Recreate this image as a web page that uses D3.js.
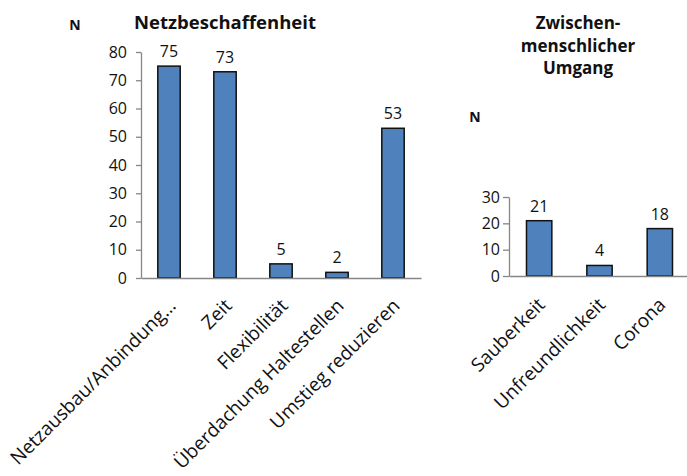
<!DOCTYPE html>
<html>
<head>
<meta charset="utf-8">
<script src="https://cdn.jsdelivr.net/npm/d3@7"></script>
<style>
  body { margin: 0; background: #fff; }
  svg { display: block; font-family: "Open Sans", sans-serif; }
</style>
</head>
<body>
<div id="canvas"></div>
<script>
const width = 687;
const height = 476;

// Netzbeschaffenheit
const netzCategories = ["Netzausbau/Anbindung…", "Zeit", "Flexibilität", "Überdachung Haltestellen", "Umstieg reduzieren"];
const netzValues = [75, 73, 5, 2, 53];
const netzTicks = [0, 10, 20, 30, 40, 50, 60, 70, 80];

// Zwischenmenschlicher Umgang
const umgangCategories = ["Sauberkeit", "Unfreundlichkeit", "Corona"];
const umgangValues = [21, 4, 18];
const umgangTicks = [0, 10, 20, 30];

const barFill = "#4f81bd";
const axisColor = "#868686";
const textColor = "#111";

const svg = d3.select("#canvas").append("svg")
  .attr("width", width)
  .attr("height", height);

svg.append("rect").attr("width", width).attr("height", height).attr("fill", "#fff");

function drawPanel(opt) {
  const x = d3.scaleBand()
    .domain(opt.categories)
    .range(opt.xRange)
    .paddingInner(opt.padIn)
    .paddingOuter(opt.padOut);

  const y = d3.scaleLinear().domain(opt.yDomain).range(opt.yRange);
  const y0 = y(0);

  const g = svg.append("g");

  // y axis
  const yAxis = g.append("g")
    .attr("transform", `translate(${opt.xRange[0]},0)`)
    .call(d3.axisLeft(y).tickValues(opt.ticks).tickSize(opt.tickSize).tickSizeOuter(0).tickPadding(opt.tickPad));
  yAxis.select(".domain").attr("stroke", axisColor).attr("stroke-width", 1.3);
  yAxis.selectAll(".tick line").attr("stroke", axisColor).attr("stroke-width", 1.3);
  yAxis.selectAll(".tick text")
    .attr("fill", textColor)
    .style("font-size", "16px")
    .style("font-family", "Open Sans, sans-serif");

  // bars
  g.selectAll("rect.bar")
    .data(opt.values)
    .enter()
    .append("rect")
    .attr("class", "bar")
    .attr("x", (d, i) => x(opt.categories[i]))
    .attr("y", d => y(d))
    .attr("width", x.bandwidth())
    .attr("height", d => y0 - y(d))
    .attr("fill", barFill)
    .attr("stroke", "#111")
    .attr("stroke-width", 1.5);

  // value labels
  g.selectAll("text.val")
    .data(opt.values)
    .enter()
    .append("text")
    .attr("class", "val")
    .attr("x", (d, i) => x(opt.categories[i]) + x.bandwidth() / 2)
    .attr("y", d => y(d) - 9)
    .attr("text-anchor", "middle")
    .attr("fill", textColor)
    .style("font-size", "16px")
    .text(d => d);

  // x axis
  const xAxis = g.append("g")
    .attr("transform", `translate(0,${y0})`)
    .call(d3.axisBottom(x).tickSize(0).tickSizeOuter(0));
  xAxis.select(".domain").attr("stroke", axisColor).attr("stroke-width", 1.3);
  xAxis.selectAll(".tick text")
    .attr("y", 0)
    .attr("dy", 0)
    .attr("fill", textColor)
    .attr("text-anchor", "end")
    .attr("transform", `translate(${opt.labelDx},${opt.labelDy}) rotate(-45)`)
    .style("font-size", "19px")
    .style("font-family", "Open Sans, sans-serif");

  // title
  g.append("text")
    .attr("x", opt.titleX)
    .attr("text-anchor", "middle")
    .attr("font-weight", "bold")
    .attr("fill", "#111")
    .style("font-size", opt.titleSize)
    .selectAll("tspan")
    .data(opt.title)
    .enter()
    .append("tspan")
    .attr("x", opt.titleX)
    .attr("y", (d, i) => opt.titleY + i * 22.5)
    .text(d => d);

  // N
  g.append("text")
    .attr("x", opt.nPos[0])
    .attr("y", opt.nPos[1])
    .attr("text-anchor", "middle")
    .attr("font-weight", "bold")
    .attr("fill", "#111")
    .style("font-size", "14px")
    .text("N");
}

drawPanel({
  categories: netzCategories,
  values: netzValues,
  ticks: netzTicks,
  xRange: [141, 421],
  padIn: 0.6,
  padOut: 0.3,
  yDomain: [0, 80],
  yRange: [278, 52],
  tickSize: 5,
  tickPad: 9,
  labelDx: 8,
  labelDy: 29,
  title: ["Netzbeschaffenheit"],
  titleSize: "18.5px",
  titleX: 225,
  titleY: 29,
  nPos: [75, 30]
});

drawPanel({
  categories: umgangCategories,
  values: umgangValues,
  ticks: umgangTicks,
  xRange: [509, 690],
  padIn: 0.58,
  padOut: 0.29,
  yDomain: [0, 30],
  yRange: [276, 197],
  tickSize: 6,
  tickPad: 3,
  labelDx: 7,
  labelDy: 30,
  title: ["Zwischen-", "menschlicher", "Umgang"],
  titleSize: "17px",
  titleX: 578,
  titleY: 29,
  nPos: [475, 122]
});
</script>
</body>
</html>
